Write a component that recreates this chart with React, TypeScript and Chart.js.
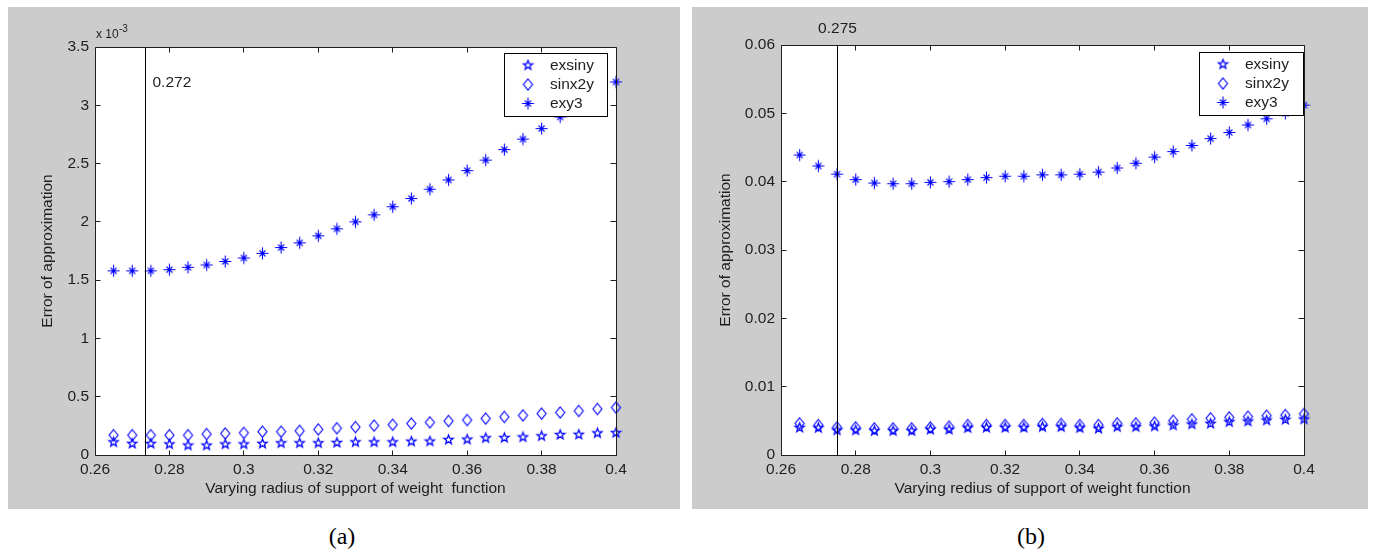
import React, { useEffect, useRef } from 'react';
import { Chart, registerables } from 'chart.js';

Chart.register(...registerables);

// ---------- data ----------
const radius = [0.265, 0.27, 0.275, 0.28, 0.285, 0.29, 0.295, 0.3, 0.305, 0.31, 0.315, 0.32, 0.325, 0.33, 0.335, 0.34, 0.345, 0.35, 0.355, 0.36, 0.365, 0.37, 0.375, 0.38, 0.385, 0.39, 0.395, 0.4];

// panel (a)
const aExsiny = [0.113e-3, 0.1e-3, 0.1e-3, 0.095e-3, 0.085e-3, 0.085e-3, 0.095e-3, 0.095e-3, 0.1e-3, 0.105e-3, 0.105e-3, 0.105e-3, 0.108e-3, 0.113e-3, 0.113e-3, 0.113e-3, 0.119e-3, 0.12e-3, 0.133e-3, 0.136e-3, 0.148e-3, 0.15e-3, 0.156e-3, 0.165e-3, 0.176e-3, 0.178e-3, 0.19e-3, 0.193e-3];
const aSinx2y = [0.17e-3, 0.17e-3, 0.17e-3, 0.17e-3, 0.17e-3, 0.18e-3, 0.185e-3, 0.19e-3, 0.2e-3, 0.2e-3, 0.207e-3, 0.22e-3, 0.23e-3, 0.24e-3, 0.253e-3, 0.26e-3, 0.27e-3, 0.28e-3, 0.292e-3, 0.3e-3, 0.313e-3, 0.327e-3, 0.34e-3, 0.355e-3, 0.365e-3, 0.378e-3, 0.395e-3, 0.407e-3];
const aExy3 = [1.58e-3, 1.58e-3, 1.58e-3, 1.59e-3, 1.61e-3, 1.63e-3, 1.66e-3, 1.69e-3, 1.73e-3, 1.78e-3, 1.82e-3, 1.88e-3, 1.94e-3, 2.0e-3, 2.06e-3, 2.13e-3, 2.2e-3, 2.28e-3, 2.36e-3, 2.44e-3, 2.53e-3, 2.62e-3, 2.71e-3, 2.8e-3, 2.9e-3, 3.0e-3, 3.1e-3, 3.2e-3];

// panel (b)
const bExsiny = [0.00405, 0.004, 0.00366, 0.00366, 0.00356, 0.00356, 0.00356, 0.00376, 0.00376, 0.004, 0.00405, 0.00405, 0.00405, 0.00415, 0.00415, 0.004, 0.0039, 0.00415, 0.00415, 0.00424, 0.00439, 0.00454, 0.00463, 0.00488, 0.00497, 0.00512, 0.00522, 0.00527];
const bSinx2y = [0.00463, 0.00439, 0.00405, 0.00405, 0.0039, 0.0039, 0.0039, 0.00405, 0.00415, 0.00439, 0.00439, 0.00439, 0.00439, 0.00454, 0.00454, 0.00439, 0.00439, 0.00463, 0.00463, 0.00473, 0.00502, 0.00522, 0.00537, 0.00551, 0.00561, 0.00576, 0.00585, 0.006];
const bExy3 = [0.0439, 0.0423, 0.0411, 0.0403, 0.0398, 0.0397, 0.0397, 0.0399, 0.04, 0.0403, 0.0406, 0.0408, 0.0408, 0.041, 0.041, 0.0411, 0.0414, 0.042, 0.0427, 0.0436, 0.0444, 0.0453, 0.0463, 0.0472, 0.0483, 0.0492, 0.05, 0.0512];

const seriesNames = ['exsiny', 'sinx2y', 'exy3'];
const xTicks = { min: 0.26, max: 0.4, step: 0.02 };
const aYTicks = { min: 0, max: 0.0035, step: 0.0005 };
const bYTicks = { min: 0, max: 0.06, step: 0.01 };
const aRef = { x: 0.2736, label: '0.272', labelY: 0.00319 };
const bRef = { x: 0.275, label: '0.275' };
const yTitle = 'Error of approximation';
const aXTitle = 'Varying radius of support of weight  function';
const bXTitle = 'Varying redius of support of weight function';

// ---------- styling ----------
const BLUE = '#0000ff';
const TXT = '#1e1e1e';
const FONT = '"Liberation Sans", Arial, Helvetica, sans-serif';
const FS = 15.5;

function mk(size: number, lw: number, draw: (ctx: CanvasRenderingContext2D, c: number) => void) {
  const cv = document.createElement('canvas');
  cv.width = size;
  cv.height = size;
  const ctx = cv.getContext('2d')!;
  ctx.strokeStyle = BLUE;
  ctx.fillStyle = BLUE;
  ctx.lineWidth = lw;
  draw(ctx, size / 2);
  return cv;
}

function makeStar() {
  return mk(13, 1.3, (ctx, c) => {
    const R = 4.8;
    const r = R * 0.42;
    ctx.beginPath();
    for (let k = 0; k < 10; k++) {
      const ang = -Math.PI / 2 + (k * Math.PI) / 5;
      const rr = k % 2 === 0 ? R : r;
      const x = c + rr * Math.cos(ang);
      const y = c + 0.3 + rr * Math.sin(ang);
      if (k === 0) ctx.moveTo(x, y);
      else ctx.lineTo(x, y);
    }
    ctx.closePath();
    ctx.stroke();
  });
}

function makeDiamond() {
  return mk(15, 1.15, (ctx, c) => {
    ctx.beginPath();
    ctx.moveTo(c, c - 5.5);
    ctx.lineTo(c + 4.5, c);
    ctx.lineTo(c, c + 5.5);
    ctx.lineTo(c - 4.5, c);
    ctx.closePath();
    ctx.stroke();
  });
}

function makeAsterisk() {
  return mk(15, 1.1, (ctx, c) => {
    ctx.beginPath();
    ctx.moveTo(c - 6, c);
    ctx.lineTo(c + 6, c);
    ctx.moveTo(c, c - 6);
    ctx.lineTo(c, c + 6);
    ctx.moveTo(c - 3, c - 3);
    ctx.lineTo(c + 3, c + 3);
    ctx.moveTo(c + 3, c - 3);
    ctx.lineTo(c - 3, c + 3);
    ctx.stroke();
    ctx.fillRect(c - 1.5, c - 1.5, 3, 3);
  });
}

const crisp = (v: number) => Math.round(v - 0.5) + 0.5;

const decor = {
  id: 'decor',
  beforeDraw(chart: any) {
    const { ctx, chartArea: a, width, height } = chart;
    ctx.save();
    ctx.fillStyle = '#cccccc';
    ctx.fillRect(0, 0, width, height);
    ctx.fillStyle = '#ffffff';
    ctx.fillRect(a.left, a.top, a.right - a.left, a.bottom - a.top);
    ctx.restore();
  },
  afterDatasetsDraw(chart: any, _args: any, opts: any) {
    const { ctx, chartArea: a } = chart;
    const xs = chart.scales.x;
    const ys = chart.scales.y;
    const L = crisp(a.left), R = crisp(a.right), T = crisp(a.top), B = crisp(a.bottom);
    ctx.save();
    ctx.strokeStyle = '#202020';
    ctx.lineWidth = 1;
    // box
    ctx.beginPath();
    ctx.moveTo(L, T); ctx.lineTo(R, T); ctx.lineTo(R, B); ctx.lineTo(L, B); ctx.closePath();
    ctx.stroke();
    // inward ticks
    ctx.beginPath();
    xs.ticks.forEach((t: any) => {
      const px = crisp(xs.getPixelForValue(t.value));
      ctx.moveTo(px, B); ctx.lineTo(px, B - 5);
      ctx.moveTo(px, T); ctx.lineTo(px, T + 5);
    });
    ys.ticks.forEach((t: any) => {
      const py = crisp(ys.getPixelForValue(t.value));
      ctx.moveTo(L, py); ctx.lineTo(L + 5, py);
      ctx.moveTo(R, py); ctx.lineTo(R - 6, py);
    });
    ctx.stroke();
    // reference line
    const rx = crisp(xs.getPixelForValue(opts.refX));
    ctx.strokeStyle = '#000000';
    ctx.beginPath();
    ctx.moveTo(rx, T); ctx.lineTo(rx, B);
    ctx.stroke();
    // reference label
    ctx.fillStyle = TXT;
    ctx.font = `${FS}px ${FONT}`;
    ctx.textBaseline = 'middle';
    if (opts.refLabelInside) {
      ctx.textAlign = 'left';
      ctx.fillText(opts.refLabel, rx + 7, ys.getPixelForValue(opts.refLabelY));
    } else {
      ctx.textAlign = 'center';
      ctx.fillText(opts.refLabel, rx, a.top - 16);
    }
    // exponent
    if (opts.exponent) {
      ctx.textAlign = 'left';
      ctx.textBaseline = 'alphabetic';
      ctx.font = `12px ${FONT}`;
      ctx.fillText('x 10', a.left + 1, a.top - 9);
      ctx.font = `10px ${FONT}`;
      ctx.fillText(opts.exponent, a.left + 24, a.top - 15.5);
    }
    // legend
    const lg = opts.legend;
    const bx = Math.round(a.right - lg.rightInset - lg.w);
    const by = Math.round(a.top + lg.topInset);
    ctx.fillStyle = '#ffffff';
    ctx.fillRect(bx, by, lg.w, lg.h);
    ctx.strokeStyle = '#000000';
    ctx.strokeRect(bx + 0.5, by + 0.5, lg.w - 1, lg.h - 1);
    ctx.font = `${FS}px ${FONT}`;
    ctx.textAlign = 'left';
    ctx.textBaseline = 'middle';
    const rows = [12, 31.5, 50.5];
    chart.data.datasets.forEach((d: any, i: number) => {
      const img = d.pointStyle;
      const cy = by + rows[i];
      ctx.drawImage(img, bx + 24 - img.width / 2, cy - img.height / 2);
      ctx.fillStyle = TXT;
      ctx.fillText(d.label, bx + 46, cy + 0.5);
    });
    ctx.restore();
  },
};

type PanelProps = {
  left: number; top: number; width: number; height: number;
  padTop: number; padRight: number; yAxisW: number; xAxisH: number;
  values: number[][]; yTicks: { min: number; max: number; step: number };
  yFmt: (v: number) => string; yTitlePad: number; xTitle: string;
  decorOpts: any;
};

function Panel(p: PanelProps) {
  const ref = useRef<HTMLCanvasElement | null>(null);
  useEffect(() => {
    const markers = [makeStar(), makeDiamond(), makeAsterisk()];
    const datasets = p.values.map((vals, i) => ({
      label: seriesNames[i],
      data: radius.map((x, j) => ({ x, y: vals[j] })),
      pointStyle: markers[i] as any,
      pointRadius: 5,
      showLine: false,
      clip: false as any,
      borderColor: BLUE,
      backgroundColor: BLUE,
      order: i,
    }));
    const chart = new Chart(ref.current!, {
      type: 'scatter',
      data: { datasets },
      options: {
        animation: false,
        responsive: false,
        devicePixelRatio: 1,
        events: [],
        layout: { padding: { left: 0, top: p.padTop, right: p.padRight, bottom: 0 } },
        plugins: {
          legend: { display: false },
          tooltip: { enabled: false },
          decor: p.decorOpts,
        } as any,
        scales: {
          x: {
            type: 'linear',
            min: xTicks.min,
            max: xTicks.max,
            grid: { display: false, drawTicks: false },
            border: { display: false },
            afterFit: (s: any) => { s.height = p.xAxisH; },
            ticks: {
              stepSize: xTicks.step,
              autoSkip: false,
              maxRotation: 0,
              padding: 5,
              color: TXT,
              font: { family: FONT, size: FS },
              callback: (v: any) => String(Math.round(Number(v) * 100) / 100),
            },
            title: {
              display: true,
              text: p.xTitle,
              color: TXT,
              font: { family: FONT, size: FS },
              padding: { top: 0, bottom: 11 },
            },
          },
          y: {
            type: 'linear',
            min: p.yTicks.min,
            max: p.yTicks.max,
            grid: { display: false, drawTicks: false },
            border: { display: false },
            afterFit: (s: any) => { s.width = p.yAxisW; },
            ticks: {
              stepSize: p.yTicks.step,
              autoSkip: false,
              padding: 6,
              color: TXT,
              font: { family: FONT, size: FS },
              callback: (v: any) => p.yFmt(Number(v)),
            },
            title: {
              display: true,
              text: yTitle,
              color: TXT,
              font: { family: FONT, size: FS },
              padding: { top: p.yTitlePad, bottom: 0 },
            },
          },
        },
      } as any,
      plugins: [decor as any],
    });
    return () => chart.destroy();
  }, []);
  return (
    <canvas
      ref={ref}
      width={p.width}
      height={p.height}
      style={{ position: 'absolute', left: p.left, top: p.top, width: p.width, height: p.height }}
    />
  );
}

const captionStyle = (cx: number): React.CSSProperties => ({
  position: 'absolute',
  left: cx - 50,
  width: 100,
  top: 522,
  lineHeight: '28px',
  textAlign: 'center',
  fontFamily: '"Liberation Serif", "Times New Roman", serif',
  fontSize: 24,
  color: '#000',
});

export default function App() {
  return (
    <div style={{ position: 'absolute', left: 0, top: 0, width: 1375, height: 552, background: '#ffffff', overflow: 'hidden' }}>
      <Panel
        left={8} top={7} width={672} height={502}
        padTop={40} padRight={64} yAxisW={87} xAxisH={54}
        values={[aExsiny, aSinx2y, aExy3]}
        yTicks={aYTicks}
        yFmt={(v) => String(Math.round(v * 1e4) / 10)}
        yTitlePad={30}
        xTitle={aXTitle}
        decorOpts={{
          refX: aRef.x, refLabel: aRef.label, refLabelInside: true, refLabelY: aRef.labelY,
          exponent: '-3',
          legend: { rightInset: 8, topInset: 6, w: 104, h: 64 },
        }}
      />
      <Panel
        left={692} top={7} width={676} height={502}
        padTop={38} padRight={64} yAxisW={89} xAxisH={54}
        values={[bExsiny, bSinx2y, bExy3]}
        yTicks={bYTicks}
        yFmt={(v) => String(Math.round(v * 100) / 100)}
        yTitlePad={24}
        xTitle={bXTitle}
        decorOpts={{
          refX: bRef.x, refLabel: bRef.label, refLabelInside: false,
          exponent: '',
          legend: { rightInset: 0, topInset: 7, w: 105, h: 64 },
        }}
      />
      <div style={captionStyle(342)}>(a)</div>
      <div style={captionStyle(1031)}>(b)</div>
    </div>
  );
}
